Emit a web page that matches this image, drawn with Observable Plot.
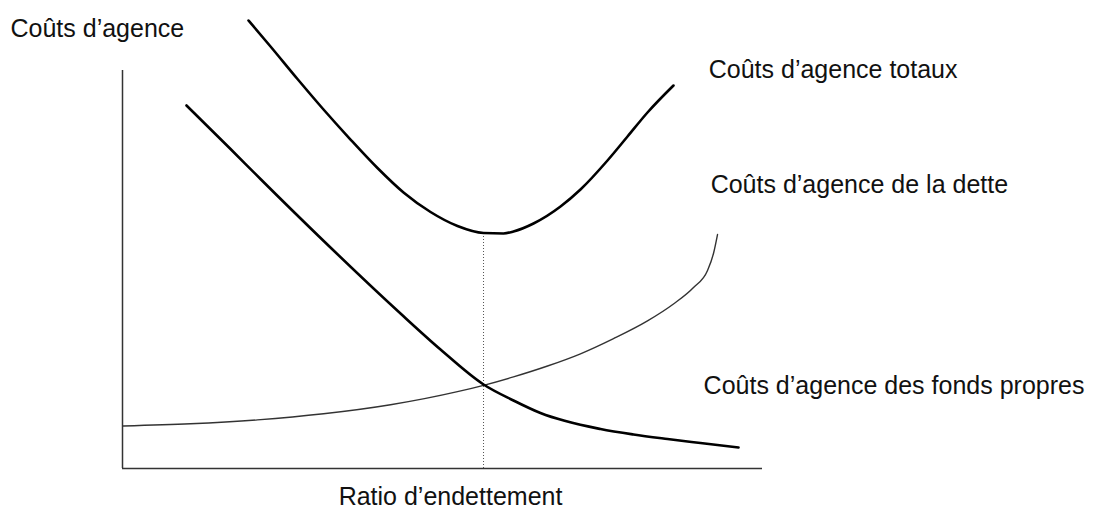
<!DOCTYPE html>
<html>
<head>
<meta charset="utf-8">
<script src="https://cdn.jsdelivr.net/npm/d3@7"></script>
<script src="https://cdn.jsdelivr.net/npm/@observablehq/plot@0.6"></script>
<style>
  html, body { margin: 0; padding: 0; background: #fff; }
  #chart svg { display: block; }
</style>
</head>
<body>
<div id="chart"></div>
<script>
// ---- Data (conceptual units: debt ratio 0–100, agency cost 0–100) ----
const yAxisTitle = "Coûts d’agence";
const xAxisTitle = "Ratio d’endettement";
const seriesNames = [
  "Coûts d’agence totaux",
  "Coûts d’agence de la dette",
  "Coûts d’agence des fonds propres"
];

const totalRatio = [19.69, 23.13, 27.34, 31.41, 35.63, 39.84, 43.91, 48.13, 52.34, 56.41, 59.53, 61.09, 64.22, 68.44, 71.56, 75.78, 78.91, 82.03, 86.09];
const totalCost  = [112.56, 106.03, 97.86, 90.20, 82.66, 75.50, 69.35, 64.45, 60.93, 59.17, 59.05, 59.55, 61.56, 65.83, 70.10, 77.39, 83.42, 89.45, 96.23];

const debtRatio = [0.11, 10.63, 21.09, 31.41, 41.88, 52.34, 56.41, 61.09, 66.41, 71.56, 76.72, 82.03, 86.09, 89.22, 91.41, 92.34, 92.97];
const debtCost  = [10.68, 11.23, 12.21, 13.74, 16.01, 19.30, 20.90, 23.02, 25.75, 28.82, 32.64, 37.09, 41.33, 45.48, 49.75, 54.02, 58.79];

const equityRatio = [10.0, 16.88, 21.56, 30.63, 43.44, 49.69, 56.41, 61.09, 65.31, 74.69, 79.84, 85.16, 90.31, 96.25];
const equityCost  = [91.21, 80.28, 72.74, 58.42, 38.94, 29.90, 21.11, 17.09, 13.94, 9.92, 8.54, 7.41, 6.41, 5.28];

const optimalRatio = 56.41;
const optimalCost = 59.1;

// ---- Build tables ----
const total = totalRatio.map((x, i) => ({x, y: totalCost[i]}));
const debt = debtRatio.map((x, i) => ({x, y: debtCost[i]}));
const equity = equityRatio.map((x, i) => ({x, y: equityCost[i]}));

const labelPlacement = [
  {text: seriesNames[0], x: 91.6, y: 98.2},
  {text: seriesNames[1], x: 91.9, y: 69.3},
  {text: seriesNames[2], x: 90.8, y: 18.8}
];

const font = "'Liberation Sans', Arial, Helvetica, sans-serif";

const chart = Plot.plot({
  width: 1098,
  height: 509,
  margin: 0,
  style: {background: "#fff", fontFamily: font},
  x: {domain: [0, 100], range: [122, 762], axis: null},
  y: {domain: [0, 100], range: [468, 70], axis: null},
  marks: [
    // optimal dotted line
    Plot.ruleX([optimalRatio], {y1: 0, y2: optimalCost, stroke: "#555", strokeWidth: 1, strokeDasharray: "1,2"}),
    // axes
    Plot.ruleX([0], {y1: 0, y2: 100, stroke: "#333", strokeWidth: 1.5}),
    Plot.ruleY([0], {x1: 0, x2: 100, stroke: "#333", strokeWidth: 1.5}),
    // curves
    Plot.line(debt, {x: "x", y: "y", curve: "monotone-x", stroke: "#333", strokeWidth: 1.4}),
    Plot.line(equity, {x: "x", y: "y", curve: "monotone-x", stroke: "#000", strokeWidth: 2.6}),
    Plot.line(total, {x: "x", y: "y", curve: "monotone-x", stroke: "#000", strokeWidth: 2.6}),
    // series labels
    Plot.text(labelPlacement, {x: "x", y: "y", text: "text", textAnchor: "start", lineAnchor: "bottom",
      fontSize: 25, fill: "#111", fontFamily: font}),
    // axis titles
    Plot.text([yAxisTitle], {frameAnchor: "top-left", dx: 10, dy: 36, textAnchor: "start", lineAnchor: "bottom",
      fontSize: 25, fill: "#111", fontFamily: font}),
    Plot.text([xAxisTitle], {x: [51.25], frameAnchor: "bottom", dy: -5, textAnchor: "middle", lineAnchor: "bottom",
      fontSize: 25, fill: "#111", fontFamily: font})
  ]
});
document.getElementById("chart").appendChild(chart);
</script>
</body>
</html>
